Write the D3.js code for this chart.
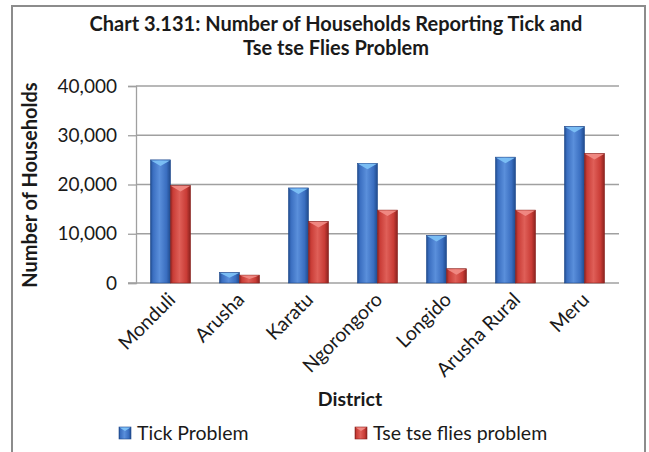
<!DOCTYPE html>
<html><head><meta charset="utf-8">
<script src="https://cdn.jsdelivr.net/npm/d3@7"></script>
<style>
html,body{margin:0;padding:0;background:#fff;}
svg{display:block;font-family:Lato,"Open Sans",sans-serif;}
</style></head>
<body>
<svg id="chart" width="649" height="452"></svg>
<script>
const titleLines = ["Chart 3.131: Number of Households Reporting Tick and", "Tse tse Flies Problem"];
const districts = ["Monduli", "Arusha", "Karatu", "Ngorongoro", "Longido", "Arusha Rural", "Meru"];
const seriesNames = ["Tick Problem", "Tse tse flies problem"];
const tickProblem = [25000, 2150, 19300, 24300, 9650, 25550, 31800];
const tsetseProblem = [19800, 1600, 12500, 14800, 2900, 14800, 26300];
const yTicks = [0, 10000, 20000, 30000, 40000];
const xTitle = "District";
const yTitle = "Number of Households";

const svg = d3.select("#chart");
const defs = svg.append("defs");

const palettes = [
  {dark:"#1f4a8c", mid:"#3a6ec0", light:"#5a8fdb", cap:"#7cc0f6", key:"blue"},
  {dark:"#8a221e", mid:"#c93c36", light:"#df5f58", cap:"#f08a84", key:"red"}
];
palettes.forEach(p=>{
  const g = defs.append("linearGradient").attr("id","g-"+p.key).attr("x1","0").attr("x2","1").attr("y1","0").attr("y2","0");
  g.append("stop").attr("offset","0").attr("stop-color",p.dark);
  g.append("stop").attr("offset","0.12").attr("stop-color",p.mid);
  g.append("stop").attr("offset","0.45").attr("stop-color",p.light);
  g.append("stop").attr("offset","0.8").attr("stop-color",p.mid);
  g.append("stop").attr("offset","1").attr("stop-color",p.dark);
});

// Outer frame
svg.append("rect").attr("x",12).attr("y",6).attr("width",633).attr("height",470)
  .attr("fill","#fff").attr("stroke","#8c8c8c").attr("stroke-width",2);

const plot = {left:136, right:619, top:86, bottom:283};
const x = d3.scaleBand().domain(districts).range([plot.left, plot.right]).paddingInner(0.42).paddingOuter(0.21);
const xs = d3.scaleBand().domain(seriesNames).range([0, x.bandwidth()]);
const y = d3.scaleLinear().domain([0, 40000]).range([plot.bottom, plot.top]);

// gridlines
svg.append("g").selectAll("line").data(yTicks.filter(d=>d>0)).join("line")
  .attr("x1",plot.left).attr("x2",plot.right)
  .attr("y1",d=>y(d)).attr("y2",d=>y(d))
  .attr("stroke","#a0a0a0").attr("stroke-width",1.3);

// y axis
const yAxis = d3.axisLeft(y).tickValues(yTicks).tickSize(8).tickPadding(11).tickFormat(d3.format(","));
const yg = svg.append("g").attr("transform",`translate(${plot.left},0)`).call(yAxis);
yg.select(".domain").attr("stroke","#a0a0a0").attr("stroke-width",1.3);
yg.selectAll(".tick line").attr("stroke","#a0a0a0").attr("stroke-width",1.3);
yg.selectAll(".tick text").attr("font-family","Lato").attr("font-size",19).attr("fill","#1a1a1a");

// x axis baseline
svg.append("line").attr("x1",plot.left-8).attr("x2",plot.right).attr("y1",y(0)).attr("y2",y(0))
  .attr("stroke","#a0a0a0").attr("stroke-width",1.3);

// bars
const series = [tickProblem, tsetseProblem];
series.forEach((vals, si)=>{
  const p = palettes[si];
  const g = svg.append("g");
  const bars = g.selectAll("g").data(districts.map((d,i)=>({d, v:vals[i]}))).join("g")
    .attr("transform",d=>`translate(${x(d.d)+xs(seriesNames[si])},0)`);
  const w = xs.bandwidth();
  bars.append("rect").attr("x",0).attr("width",w)
    .attr("y",d=>y(d.v)).attr("height",d=>y(0)-y(d.v))
    .attr("fill",`url(#g-${p.key})`).attr("stroke",p.dark).attr("stroke-width",0.6);
  bars.append("path").attr("d",d=>{
      const t = y(d.v), h = Math.min(6, (y(0)-t)/2);
      return `M0.5,${t+0.5} L${w-0.5},${t+0.5} L${w/2},${t+h} Z`;
    }).attr("fill",p.cap).attr("opacity",0.95);
});

// x labels
const xg = svg.append("g");
xg.selectAll("text").data(districts).join("text")
  .attr("transform",d=>`translate(${x(d)+x.bandwidth()/2+6},${plot.bottom+18}) rotate(-45)`)
  .attr("text-anchor","end").attr("font-size",19.5).attr("fill","#1a1a1a").text(d=>d);

// titles
svg.append("g").selectAll("text").data(titleLines).join("text")
  .attr("x",336).attr("y",(d,i)=>31+i*24).attr("text-anchor","middle")
  .attr("font-size",20).attr("font-weight","bold").attr("fill","#1a1a1a").text(d=>d);

svg.append("text").attr("x",350).attr("y",406).attr("text-anchor","middle")
  .attr("font-size",19.5).attr("font-weight","bold").attr("fill","#1a1a1a").text(xTitle);

svg.append("text").attr("transform","translate(37,185) rotate(-90)").attr("text-anchor","middle")
  .attr("font-size",20).attr("font-weight","bold").attr("fill","#1a1a1a").text(yTitle);

// legend
const legX = [119, 355];
const lg = svg.append("g").selectAll("g").data(seriesNames).join("g")
  .attr("transform",(d,i)=>`translate(${legX[i]},427)`);
lg.append("rect").attr("width",12).attr("height",12)
  .attr("fill",(d,i)=>`url(#g-${palettes[i].key})`).attr("stroke",(d,i)=>palettes[i].dark).attr("stroke-width",0.6);
lg.append("path").attr("d","M0.5,0.5 L11.5,0.5 L6,4 Z").attr("fill",(d,i)=>palettes[i].cap);
lg.append("text").attr("x",18).attr("y",13).attr("font-size",19.5).attr("fill","#1a1a1a").text(d=>d);
</script>
</body></html>
